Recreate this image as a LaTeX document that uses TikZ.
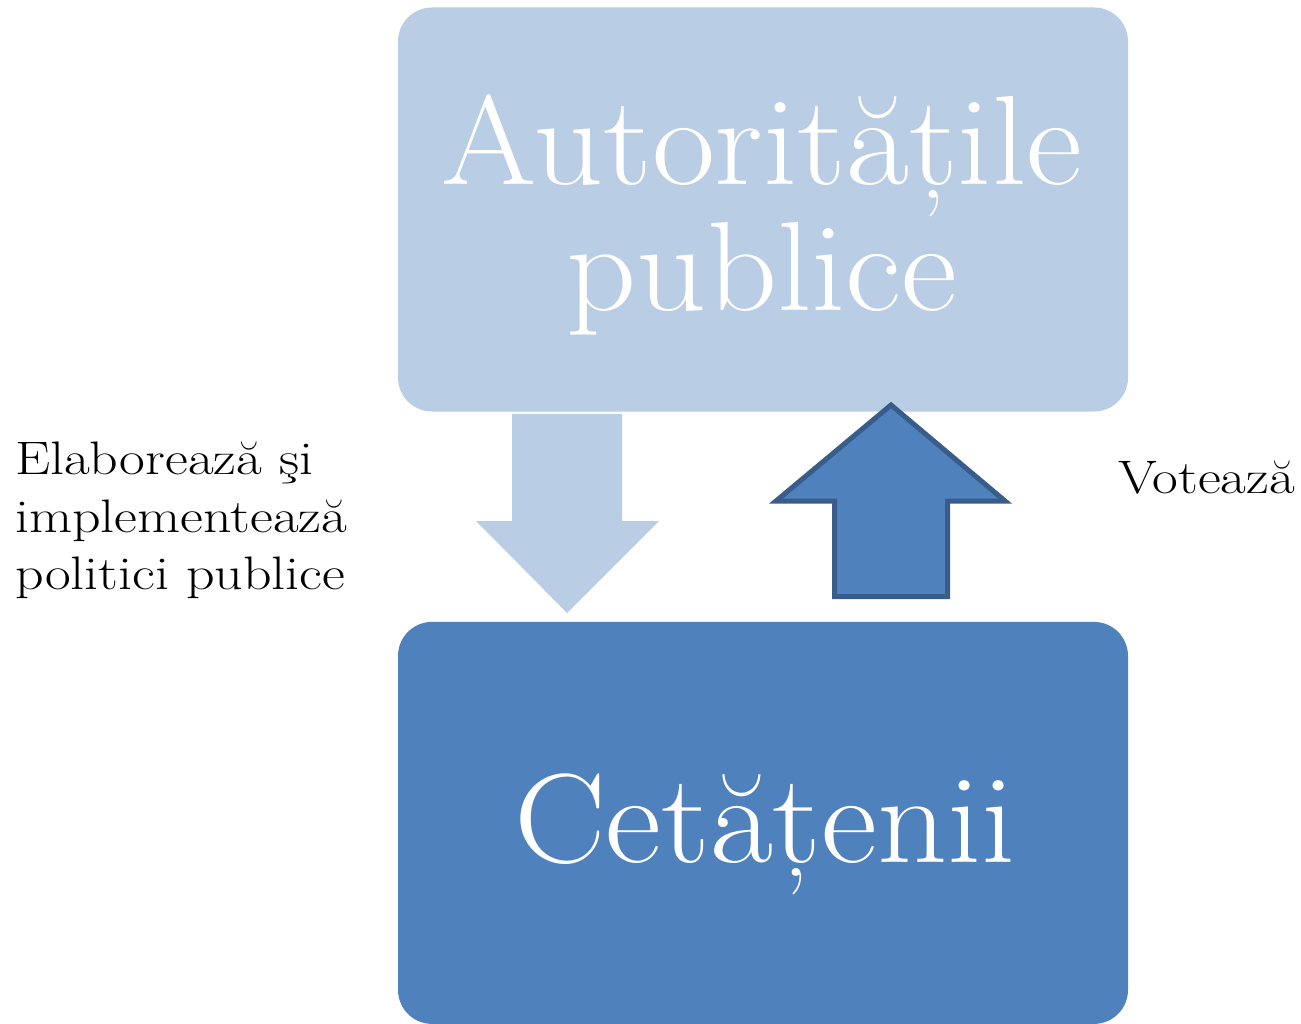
\documentclass[tikz,border=0pt]{standalone}
\usepackage{fontspec}
\setmainfont{Latin Modern Roman}
\newfontfamily\boxfont[FakeStretch=1.08]{Latin Modern Roman}
\newfontfamily\sidefont[FakeStretch=1.19]{Latin Modern Roman}
\usetikzlibrary{positioning}

\definecolor{lightblue}{HTML}{B9CDE5}
\definecolor{midblue}{HTML}{4F81BD}
\definecolor{darkblue}{HTML}{385D8A}

\tikzset{
	bigbox/.style={rectangle,rounded corners=34pt,minimum width=730pt,inner sep=0pt},
	boxtext/.style={inner sep=0pt,text=white,align=center,font=\boxfont\fontsize{127}{126}\selectfont},
	sidetext/.style={inner sep=0pt,font=\sidefont\fontsize{47}{57.5}\selectfont}
}

\begin{document}
\begin{tikzpicture}[x=1pt,y=-1pt]
			\useasboundingbox (0,0) rectangle (1301,1024);
			\node[bigbox,fill=lightblue,minimum height=404pt] (autoritati) at (763,209.5) {};
			\node[bigbox,fill=midblue,minimum height=402pt,below=210pt of autoritati] (cetateni) {};
			\node[boxtext] (autoritatitext) at (762,215) {Autoritățile\\publice};
			\node[boxtext,anchor=base] (cetatenitext) at (765,862) {Cetățenii};
			% sageti
			\fill[lightblue] (512,414) -- (622,414) -- (622,521) -- (659,521) -- (567,613) -- (476,521) -- (512,521) -- cycle;
			\filldraw[fill=midblue,draw=darkblue,line width=5pt] (834.5,596.5) -- (834.5,501) -- (776,501) -- (891,405) -- (1005,501) -- (947.5,501) -- (947.5,596.5) -- cycle;
			\node[sidetext,anchor=north west,align=left] (elaborare) at (15,442) {Elaborează şi\\implementează\\politici publice};
			\node[sidetext,anchor=base west] (vot) at (1118,493) {Votează};
		\end{tikzpicture}
\end{document}
